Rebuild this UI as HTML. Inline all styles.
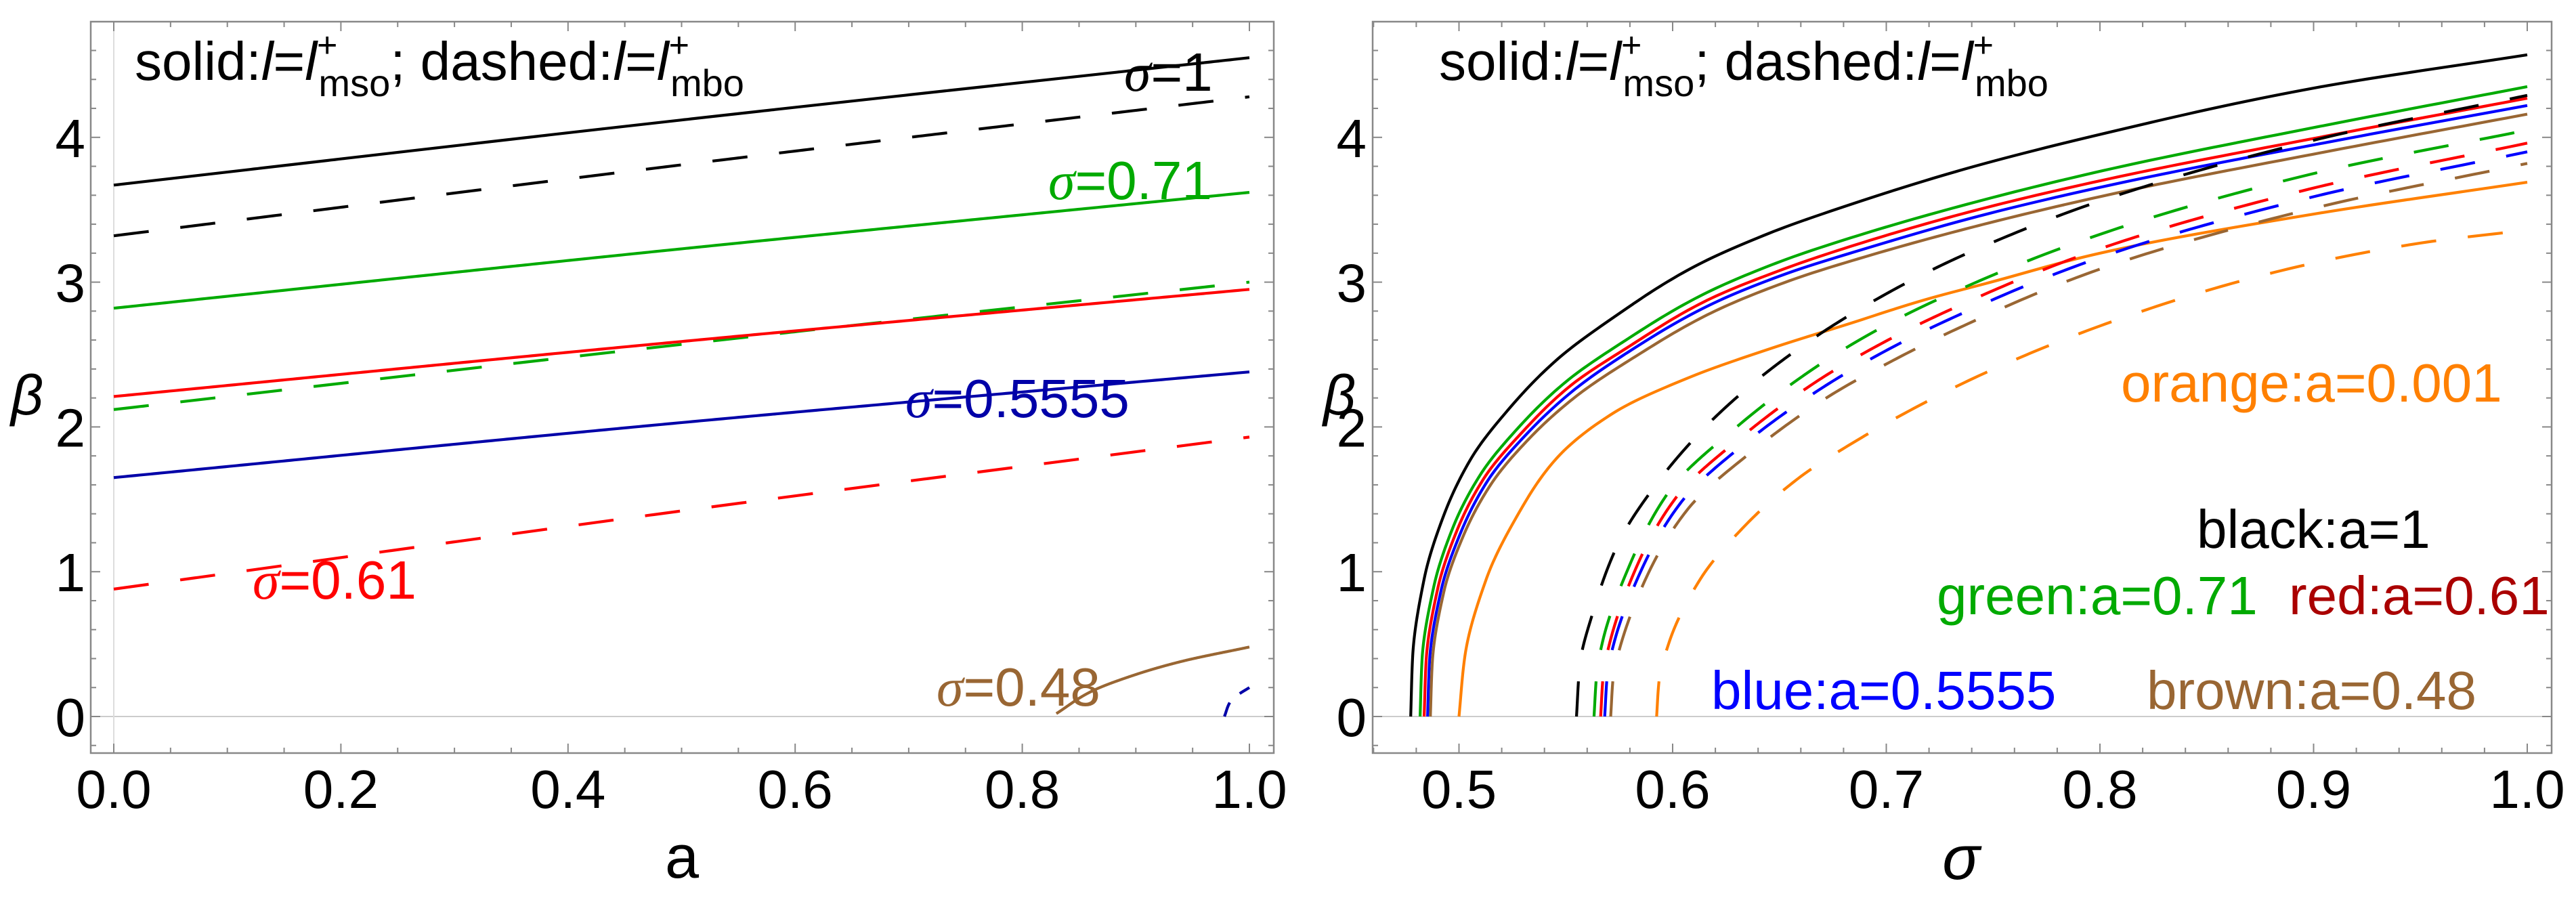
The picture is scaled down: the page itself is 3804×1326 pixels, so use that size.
<!DOCTYPE html>
<html><head><meta charset="utf-8"><style>
html,body{margin:0;padding:0;background:#fff;}
svg{display:block;}
text{font-family:"Liberation Sans",sans-serif;}
</style></head><body>
<svg id="chart" width="3804" height="1326" viewBox="0 0 3804 1326" xmlns="http://www.w3.org/2000/svg">
<defs>
<clipPath id="clipL"><rect x="134" y="32" width="1747" height="1080"/></clipPath>
<clipPath id="clipR"><rect x="2027" y="32" width="1741" height="1080"/></clipPath>
</defs>
<rect x="0" y="0" width="3804" height="1326" fill="#fff"/>
<g id="left"></g>
<g id="right"></g>
</svg>
<script>
// ---------- Left panel data (x = a, y = beta) ----------
const leftBlackSolidA = [0, 0.5, 1];
const leftBlackSolidB = [3.67, 4.12, 4.55];
const leftBlackDashA = [0, 0.5, 1];
const leftBlackDashB = [3.32, 3.81, 4.28];
const leftGreenSolidA = [0, 0.5, 1];
const leftGreenSolidB = [2.82, 3.23, 3.62];
const leftGreenDashA = [0, 0.5, 1];
const leftGreenDashB = [2.12, 2.57, 3.0];
const leftRedSolidA = [0, 0.5, 1];
const leftRedSolidB = [2.21, 2.59, 2.95];
const leftRedDashA = [0, 0.5, 1];
const leftRedDashB = [0.88, 1.42, 1.93];
const leftBlueSolidA = [0, 0.5, 1];
const leftBlueSolidB = [1.65, 2.03, 2.38];
const leftBrownSolidA = [0.83, 0.86, 0.9, 0.94, 1.0];
const leftBrownSolidB = [0.02, 0.17, 0.29, 0.38, 0.48];
const leftBlueDashA = [0.978, 0.983, 0.99, 1.0];
const leftBlueDashB = [0.0, 0.1, 0.15, 0.2];
const leftXTicks = ["0.0","0.2","0.4","0.6","0.8","1.0"];
const leftYTicks = ["0","1","2","3","4"];

// ---------- Right panel data (x = sigma, y = beta) ----------
const rBlackSolidS = [0.4774,0.4783,0.4837,0.4929,0.5056,0.5237,0.5455,0.5727,0.6092,0.6456,0.682,0.7365,0.8,0.9,1.0];
const rBlackSolidB = [0,0.41,0.95,1.39,1.78,2.13,2.46,2.76,3.10,3.34,3.53,3.78,4.02,4.34,4.57];
const rGreenSolidS = [0.4818,0.4827,0.4881,0.4973,0.51,0.5281,0.5499,0.5771,0.6136,0.65,0.6864,0.7409,0.8044,0.9044,1.0];
const rGreenSolidB = [0,0.39,0.89,1.31,1.67,2.0,2.31,2.59,2.91,3.14,3.32,3.55,3.78,4.08,4.35];
const rRedSolidS = [0.4837,0.4846,0.49,0.4992,0.5119,0.53,0.5518,0.579,0.6155,0.6519,0.6883,0.7428,0.8063,0.9063,1.0];
const rRedSolidB = [0,0.38,0.88,1.29,1.65,1.97,2.28,2.55,2.87,3.09,3.27,3.5,3.72,4.01,4.27];
const rBlueSolidS = [0.4853,0.4862,0.4916,0.5008,0.5135,0.5316,0.5534,0.5806,0.6171,0.6535,0.6899,0.7444,0.8079,0.9079,1.0];
const rBlueSolidB = [0,0.38,0.87,1.27,1.63,1.95,2.25,2.53,2.84,3.06,3.23,3.46,3.68,3.97,4.22];
const rBrownSolidS = [0.4866,0.4875,0.4929,0.5021,0.5148,0.5329,0.5547,0.5819,0.6184,0.6548,0.6912,0.7457,0.8092,0.9092,1.0];
const rBrownSolidB = [0,0.37,0.86,1.25,1.6,1.92,2.21,2.48,2.79,3.01,3.18,3.4,3.62,3.91,4.16];
const rOrangeSolidS = [0.5,0.5027,0.5128,0.5274,0.5455,0.5727,0.6092,0.6456,0.682,0.7185,0.749,0.8,0.9,1.0];
const rOrangeSolidB = [0,0.41,0.95,1.39,1.78,2.10,2.35,2.54,2.71,2.88,3.0,3.2,3.47,3.69];
const rBlackDashS = [0.555,0.5565,0.5629,0.5747,0.5921,0.614,0.6384,0.6647,0.6929,0.7221,0.749,0.8,0.9,1.0];
const rBlackDashB = [0,0.35,0.73,1.2,1.6,1.98,2.31,2.6,2.86,3.09,3.27,3.56,3.98,4.29];
const rGreenDashS = [0.5632,0.5645,0.5671,0.58,0.5991,0.63,0.6657,0.6945,0.724,0.8,0.9,1.0];
const rGreenDashB = [0,0.3,0.51,1.05,1.57,2.0,2.4,2.66,2.88,3.33,3.75,4.05];
const rRedDashS = [0.5663,0.5676,0.5704,0.583,0.602,0.633,0.668,0.697,0.727,0.8,0.9,1.0];
const rRedDashB = [0,0.3,0.5,1.03,1.52,1.94,2.32,2.57,2.79,3.23,3.65,3.96];
const rBlueDashS = [0.5682,0.5695,0.5724,0.585,0.604,0.635,0.67,0.699,0.729,0.8,0.9,1.0];
const rBlueDashB = [0,0.3,0.5,1.0,1.48,1.9,2.27,2.52,2.74,3.17,3.59,3.9];
const rBrownDashS = [0.571,0.5723,0.5754,0.588,0.607,0.638,0.673,0.702,0.732,0.8,0.9,1.0];
const rBrownDashB = [0,0.29,0.48,0.97,1.43,1.84,2.21,2.45,2.67,3.09,3.51,3.82];
const rOrangeDashS = [0.5925,0.5936,0.5983,0.613,0.634,0.6593,0.6866,0.7157,0.7458,0.81,0.885,0.95,1.0];
const rOrangeDashB = [0,0.24,0.51,0.95,1.32,1.65,1.91,2.15,2.37,2.75,3.08,3.27,3.36];
const rightXTicks = ["0.5","0.6","0.7","0.8","0.9","1.0"];
const rightYTicks = ["0","1","2","3","4"];

const NS = "http://www.w3.org/2000/svg";
const Y0 = 1058, YU = 213.8;
function yS(b){ return Y0 - b*YU; }
function xL(a){ return 168 + a*1677; }
function xR(s){ return 2154.5 + (s-0.5)*3155; }

function mk(tag, attrs, parent){
  const e = document.createElementNS(NS, tag);
  for (const k in attrs) e.setAttribute(k, attrs[k]);
  parent.appendChild(e);
  return e;
}
// Monotone (Fritsch-Carlson) cubic: x as function of beta
function monotone(ts, vs){
  const n = ts.length, d = [], m = new Array(n);
  for (let i=0;i<n-1;i++) d.push((vs[i+1]-vs[i])/(ts[i+1]-ts[i]));
  m[0]=d[0]; m[n-1]=d[n-2];
  for (let i=1;i<n-1;i++){
    if (d[i-1]*d[i]<=0) m[i]=0;
    else { const h0=ts[i]-ts[i-1], h1=ts[i+1]-ts[i];
      const w1=2*h1+h0, w2=h1+2*h0; m[i]=(w1+w2)/(w1/d[i-1]+w2/d[i]); }
  }
  return function(t){
    let i=0; while(i<n-2 && t>ts[i+1]) i++;
    const h=ts[i+1]-ts[i], s=(t-ts[i])/h;
    const h00=2*s*s*s-3*s*s+1, h10=s*s*s-2*s*s+s, h01=-2*s*s*s+3*s*s, h11=s*s*s-s*s;
    return h00*vs[i]+h10*h*m[i]+h01*vs[i+1]+h11*h*m[i+1];
  };
}
function series(parent, xs, ys, xf, color, dash, name, clip){
  const f = monotone(ys, xs);
  const b0 = ys[0], b1 = ys[ys.length-1];
  const N = 300;
  let d = "";
  for (let k=0;k<=N;k++){
    const b = b0 + (b1-b0)*k/N;
    d += (k?" L":"M") + xf(f(b)).toFixed(2) + "," + yS(b).toFixed(2);
  }
  const p = mk("path", {d: d, fill:"none", stroke:color, "stroke-width":"4.2", "stroke-linejoin":"round", "clip-path":"url(#"+clip+")"}, parent);
  if (dash) p.setAttribute("stroke-dasharray", dash);
  
  
}
function frame(parent, x1, x2, name){
  const r = mk("rect", {x:x1, y:32, width:x2-x1, height:1080, fill:"none", stroke:"#888", "stroke-width":"2.5"}, parent);
  
  
}
function tickMarks(parent, pos, isX, len, x1, x2){
  const g = mk("g", {stroke:"#888","stroke-width":"2"}, parent);
  
  
  pos.forEach(p=>{
    if (isX){
      mk("line",{x1:p,x2:p,y1:1112,y2:1112-len},g);
      mk("line",{x1:p,x2:p,y1:32,y2:32+len},g);
    } else {
      mk("line",{x1:x1,x2:x1+len,y1:p,y2:p},g);
      mk("line",{x1:x2,x2:x2-len,y1:p,y2:p},g);
    }
  });
}
function label(parent, txt, x, y, size, color, anchor, name){
  const t = mk("text", {x:x, y:y, "font-size":size, fill:color, "text-anchor":anchor||"start"}, parent);
  t.textContent = txt;
  
  
  return t;
}
function sigmaLabel(parent, val, x, y, color, name){
  const t = mk("text", {x:x, y:y, "font-size":80, fill:color}, parent);
  
  
  const s = mk("tspan", {"font-style":"italic", "font-family":"Liberation Serif, serif"}, t); s.textContent = "σ";
  const r = mk("tspan", {}, t); r.textContent = "="+val;
}
function title(parent, x, y, name){
  const t = mk("text", {x:x, y:y, "font-size":80, fill:"#000"}, parent);
  
  
  const parts = [
    ["solid:",{}],["l",{"font-style":"italic"}],["=",{}],["l",{"font-style":"italic"}],
    ["+",{"font-size":52,dy:-34}],["mso",{"font-size":56,dx:-28,dy:58}],
    ["; dashed:",{dy:-24}],["l",{"font-style":"italic"}],["=",{}],["l",{"font-style":"italic"}],
    ["+",{"font-size":52,dy:-34}],["mbo",{"font-size":56,dx:-28,dy:58}]
  ];
  parts.forEach(p=>{ const s = mk("tspan", p[1], t); s.textContent = p[0]; });
}

const DASH = "52 47";
// ===== Left panel =====
const L = document.getElementById("left");
mk("line",{x1:134,x2:1881,y1:yS(0),y2:yS(0),stroke:"#ccc","stroke-width":"2"},L);
mk("line",{x1:xL(0),x2:xL(0),y1:32,y2:1112,stroke:"#ddd","stroke-width":"2"},L);
frame(L, 134, 1881, "left-plot-frame");
const lxMaj=[], lxMin=[];
for(let i=0;i<=20;i++){ const v=i*0.05; (i%4===0?lxMaj:lxMin).push(xL(v)); }
tickMarks(L, lxMaj, true, 14); tickMarks(L, lxMin, true, 8);
const lyMaj=[], lyMin=[];
for(let i=-1;i<=24;i++){ const v=i*0.2; if (yS(v)<32||yS(v)>1112) continue; (i%5===0?lyMaj:lyMin).push(yS(v)); }
tickMarks(L, lyMaj, false, 14, 134, 1881); tickMarks(L, lyMin, false, 8, 134, 1881);
leftXTicks.forEach(s=>label(L, s, xL(parseFloat(s)), 1193, 80, "#000", "middle", "x-tick-label"));
leftYTicks.forEach(s=>label(L, s, 126, yS(parseFloat(s))+29, 80, "#000", "end", "y-tick-label"));
label(L, "a", 1007, 1296, 90, "#000", "middle", "x-axis-title");
const bl = mk("text",{x:40,y:612,"font-size":84,"font-style":"italic","font-family":"Liberation Serif, serif","text-anchor":"middle"},L);
bl.textContent="β";  

series(L, leftBlackSolidA, leftBlackSolidB, xL, "#000", null, "sigma-1-solid", "clipL");
series(L, leftBlackDashA, leftBlackDashB, xL, "#000", DASH, "sigma-1-dashed", "clipL");
series(L, leftGreenSolidA, leftGreenSolidB, xL, "#00aa00", null, "sigma-071-solid", "clipL");
series(L, leftGreenDashA, leftGreenDashB, xL, "#00aa00", DASH, "sigma-071-dashed", "clipL");
series(L, leftRedSolidA, leftRedSolidB, xL, "#ff0000", null, "sigma-061-solid", "clipL");
series(L, leftRedDashA, leftRedDashB, xL, "#ff0000", DASH, "sigma-061-dashed", "clipL");
series(L, leftBlueSolidA, leftBlueSolidB, xL, "#0000a8", null, "sigma-05555-solid", "clipL");
series(L, leftBlueDashA, leftBlueDashB, xL, "#0000a8", "22 20", "sigma-05555-dashed", "clipL");
series(L, leftBrownSolidA, leftBrownSolidB, xL, "#996633", null, "sigma-048-solid", "clipL");

title(L, 199, 118, "left-legend-title");
sigmaLabel(L, "1", 1660, 134, "#000", "label-sigma-1");
sigmaLabel(L, "0.71", 1548, 294, "#00aa00", "label-sigma-071");
sigmaLabel(L, "0.5555", 1337, 616, "#0000a8", "label-sigma-05555");
sigmaLabel(L, "0.61", 373, 884, "#ff0000", "label-sigma-061");
sigmaLabel(L, "0.48", 1383, 1042, "#996633", "label-sigma-048");

// ===== Right panel =====
const R = document.getElementById("right");
mk("line",{x1:2027,x2:3768,y1:yS(0),y2:yS(0),stroke:"#ccc","stroke-width":"2"},R);
frame(R, 2027, 3768, "right-plot-frame");
const rxMaj=[], rxMin=[];
for(let i=23;i<=51;i++){ const v=i*0.02; const x=xR(v); if(x<2027||x>3768) continue; (i%5===0?rxMaj:rxMin).push(x); }
tickMarks(R, rxMaj, true, 14); tickMarks(R, rxMin, true, 8);
tickMarks(R, lyMaj, false, 14, 2027, 3768); tickMarks(R, lyMin, false, 8, 2027, 3768);
rightXTicks.forEach(s=>label(R, s, xR(parseFloat(s)), 1193, 80, "#000", "middle", "x-tick-label"));
rightYTicks.forEach(s=>label(R, s, 2018, yS(parseFloat(s))+29, 80, "#000", "end", "y-tick-label"));
const sl = mk("text",{x:2896,y:1298,"font-size":92,"font-style":"italic","font-family":"Liberation Serif, serif","text-anchor":"middle"},R);
sl.textContent="σ";  
const br = mk("text",{x:1978,y:612,"font-size":84,"font-style":"italic","font-family":"Liberation Serif, serif","text-anchor":"middle"},R);
br.textContent="β";  

series(R, rBlackSolidS, rBlackSolidB, xR, "#000", null, "a-1-solid", "clipR");
series(R, rGreenSolidS, rGreenSolidB, xR, "#00aa00", null, "a-071-solid", "clipR");
series(R, rRedSolidS, rRedSolidB, xR, "#ff0000", null, "a-061-solid", "clipR");
series(R, rBlueSolidS, rBlueSolidB, xR, "#0000ff", null, "a-05555-solid", "clipR");
series(R, rBrownSolidS, rBrownSolidB, xR, "#996633", null, "a-048-solid", "clipR");
series(R, rOrangeSolidS, rOrangeSolidB, xR, "#ff8000", null, "a-0001-solid", "clipR");
series(R, rBlackDashS, rBlackDashB, xR, "#000", DASH, "a-1-dashed", "clipR");
series(R, rGreenDashS, rGreenDashB, xR, "#00aa00", DASH, "a-071-dashed", "clipR");
series(R, rRedDashS, rRedDashB, xR, "#ff0000", DASH, "a-061-dashed", "clipR");
series(R, rBlueDashS, rBlueDashB, xR, "#0000ff", DASH, "a-05555-dashed", "clipR");
series(R, rBrownDashS, rBrownDashB, xR, "#996633", DASH, "a-048-dashed", "clipR");
series(R, rOrangeDashS, rOrangeDashB, xR, "#ff8000", DASH, "a-0001-dashed", "clipR");

title(R, 2125, 118, "right-legend-title");
label(R, "orange:a=0.001", 3132, 593, 80, "#ff8000", "start", "legend-orange");
label(R, "black:a=1", 3244, 809, 80, "#000", "start", "legend-black");
label(R, "green:a=0.71", 2860, 907, 80, "#00aa00", "start", "legend-green");
label(R, "red:a=0.61", 3380, 907, 80, "#aa0000", "start", "legend-red");
label(R, "blue:a=0.5555", 2527, 1047, 80, "#0000ff", "start", "legend-blue");
label(R, "brown:a=0.48", 3170, 1047, 80, "#996633", "start", "legend-brown");
</script>
</body></html>
